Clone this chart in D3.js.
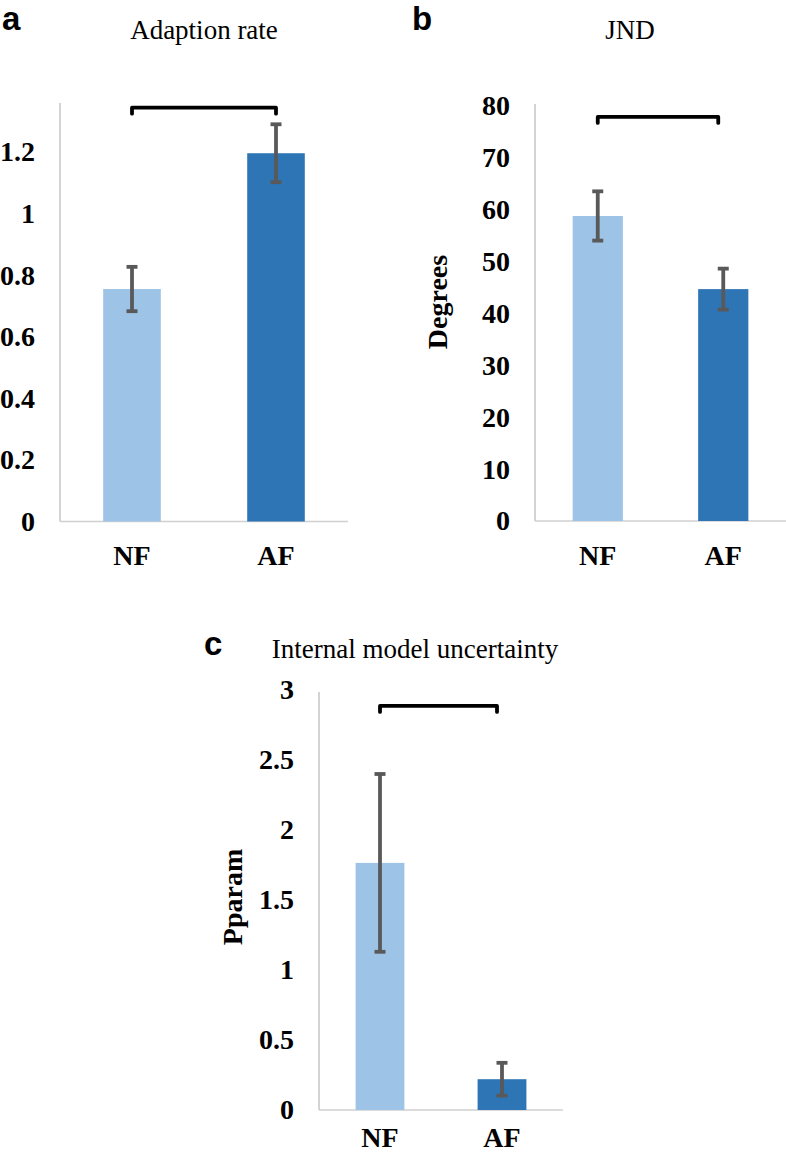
<!DOCTYPE html>
<html>
<head>
<meta charset="utf-8">
<script src="https://cdn.jsdelivr.net/npm/d3@7"></script>
<style>
  html, body { margin: 0; padding: 0; background: #fff; }
  svg { display: block; }
</style>
</head>
<body>
<svg id="chart" width="786" height="1153"></svg>
<script>
// ---------- DATA ----------
const categories = ["NF", "AF"];

const adaptionMeans = [0.755, 1.196];
const adaptionErrors = [0.072, 0.094];
const adaptionTicks = [0, 0.2, 0.4, 0.6, 0.8, 1, 1.2];
const adaptionTickLabels = ["0", "0.2", "0.4", "0.6", "0.8", "1", "1.2"];
const adaptionBracket = 1.344;

const jndMeans = [58.8, 44.7];
const jndErrors = [4.75, 3.95];
const jndTicks = [0, 10, 20, 30, 40, 50, 60, 70, 80];
const jndTickLabels = ["0", "10", "20", "30", "40", "50", "60", "70", "80"];
const jndBracket = 77.9;

const pparamMeans = [1.765, 0.22];
const pparamErrors = [0.635, 0.117];
const pparamTicks = [0, 0.5, 1, 1.5, 2, 2.5, 3];
const pparamTickLabels = ["0", "0.5", "1", "1.5", "2", "2.5", "3"];
const pparamBracket = 2.886;

const barColors = ["#9dc3e6", "#2e75b6"];

// ---------- LAYOUT ----------
const SERIF = "'Liberation Serif', 'Times New Roman', Times, serif";
const SANS = "'Liberation Sans', Arial, Helvetica, sans-serif";
const svg = d3.select("#chart");

const panels = [
  {
    letter: "a", letterX: 2, letterY: 30,
    title: "Adaption rate", titleX: 204, titleY: 39,
    x0: 60, x1: 348, yBottom: 521.5, yTopVal: 1.2, yTopPx: 152, axisTopPx: 103,
    means: adaptionMeans, errors: adaptionErrors,
    ticks: adaptionTicks, tickLabels: adaptionTickLabels,
    bracket: adaptionBracket, bracketShrink: 0,
    yLabel: null, xLabelY: 565
  },
  {
    letter: "b", letterX: 412, letterY: 30,
    title: "JND", titleX: 630, titleY: 39,
    x0: 535, x1: 786, yBottom: 521, yTopVal: 80, yTopPx: 106, axisTopPx: 104,
    means: jndMeans, errors: jndErrors,
    ticks: jndTicks, tickLabels: jndTickLabels,
    bracket: jndBracket, bracketShrink: 5,
    yLabel: "Degrees", yLabelX: 447, yLabelY: 302, xLabelY: 565
  },
  {
    letter: "c", letterX: 204, letterY: 655,
    title: "Internal model uncertainty", titleX: 415, titleY: 658,
    x0: 319, x1: 563, yBottom: 1110, yTopVal: 3, yTopPx: 690, axisTopPx: 692,
    means: pparamMeans, errors: pparamErrors,
    ticks: pparamTicks, tickLabels: pparamTickLabels,
    bracket: pparamBracket, bracketShrink: 5,
    yLabel: "Pparam", yLabelX: 242, yLabelY: 897, xLabelY: 1147
  }
];

panels.forEach(p => {
  const g = svg.append("g");

  const x = d3.scaleBand()
    .domain(categories)
    .range([p.x0, p.x1])
    .paddingInner(0.6)
    .paddingOuter(0.3);

  const y = d3.scaleLinear()
    .domain([0, p.yTopVal])
    .range([p.yBottom, p.yTopPx]);

  // panel letter
  g.append("text")
    .attr("x", p.letterX).attr("y", p.letterY)
    .attr("font-family", SANS).attr("font-weight", "bold")
    .attr("font-size", 33).attr("fill", "#000")
    .text(p.letter);

  // title
  g.append("text")
    .attr("x", p.titleX).attr("y", p.titleY)
    .attr("text-anchor", "middle")
    .attr("font-family", SERIF).attr("font-size", 27).attr("fill", "#000")
    .text(p.title);

  // y axis tick labels (no tick marks, no domain)
  const yAxis = d3.axisLeft(y)
    .tickValues(p.ticks)
    .tickFormat((d, i) => p.tickLabels[i])
    .tickSize(0)
    .tickPadding(25);
  const ya = g.append("g")
    .attr("transform", `translate(${p.x0},0)`)
    .call(yAxis);
  ya.select(".domain").remove();
  ya.selectAll("text")
    .attr("font-family", SERIF).attr("font-weight", "bold")
    .attr("font-size", 28).attr("fill", "#000");

  // axis lines
  g.append("line")
    .attr("x1", p.x0).attr("x2", p.x0)
    .attr("y1", y(0)).attr("y2", p.axisTopPx)
    .attr("stroke", "#c6c6c6").attr("stroke-width", 1.5);
  g.append("line")
    .attr("x1", p.x0).attr("x2", p.x1)
    .attr("y1", y(0)).attr("y2", y(0))
    .attr("stroke", "#d0d0d0").attr("stroke-width", 1.5);

  // bars
  g.selectAll("rect.bar")
    .data(categories)
    .enter().append("rect")
    .attr("class", "bar")
    .attr("x", d => x(d))
    .attr("width", x.bandwidth())
    .attr("y", (d, i) => y(p.means[i]))
    .attr("height", (d, i) => y(0) - y(p.means[i]))
    .attr("fill", (d, i) => barColors[i]);

  // error bars
  const capHalf = 5.5;
  categories.forEach((c, i) => {
    const cx = x(c) + x.bandwidth() / 2;
    const hi = y(p.means[i] + p.errors[i]);
    const lo = y(p.means[i] - p.errors[i]);
    const eg = g.append("g").attr("stroke", "#595959").attr("stroke-width", 3.8);
    eg.append("line").attr("x1", cx).attr("x2", cx).attr("y1", hi).attr("y2", lo);
    eg.append("line").attr("x1", cx - capHalf).attr("x2", cx + capHalf).attr("y1", hi).attr("y2", hi);
    eg.append("line").attr("x1", cx - capHalf).attr("x2", cx + capHalf).attr("y1", lo).attr("y2", lo);
  });

  // significance bracket
  const bx1 = x(categories[0]) + x.bandwidth() / 2;
  const bx2 = x(categories[1]) + x.bandwidth() / 2 - p.bracketShrink;
  const by = y(p.bracket);
  g.append("path")
    .attr("d", `M${bx1},${by + 6}L${bx1},${by}L${bx2},${by}L${bx2},${by + 6}`)
    .attr("fill", "none").attr("stroke", "#000")
    .attr("stroke-width", 3.8).attr("stroke-linecap", "round").attr("stroke-linejoin", "round");

  // x category labels
  g.selectAll("text.xlab")
    .data(categories)
    .enter().append("text")
    .attr("class", "xlab")
    .attr("x", d => x(d) + x.bandwidth() / 2)
    .attr("y", p.xLabelY)
    .attr("text-anchor", "middle")
    .attr("font-family", SERIF).attr("font-weight", "bold")
    .attr("font-size", 28).attr("fill", "#000")
    .text(d => d);

  // y axis title
  if (p.yLabel) {
    g.append("text")
      .attr("transform", `translate(${p.yLabelX},${p.yLabelY}) rotate(-90)`)
      .attr("text-anchor", "middle")
      .attr("font-family", SERIF).attr("font-weight", "bold")
      .attr("font-size", 28).attr("fill", "#000")
      .text(p.yLabel);
  }
});
</script>
</body>
</html>
